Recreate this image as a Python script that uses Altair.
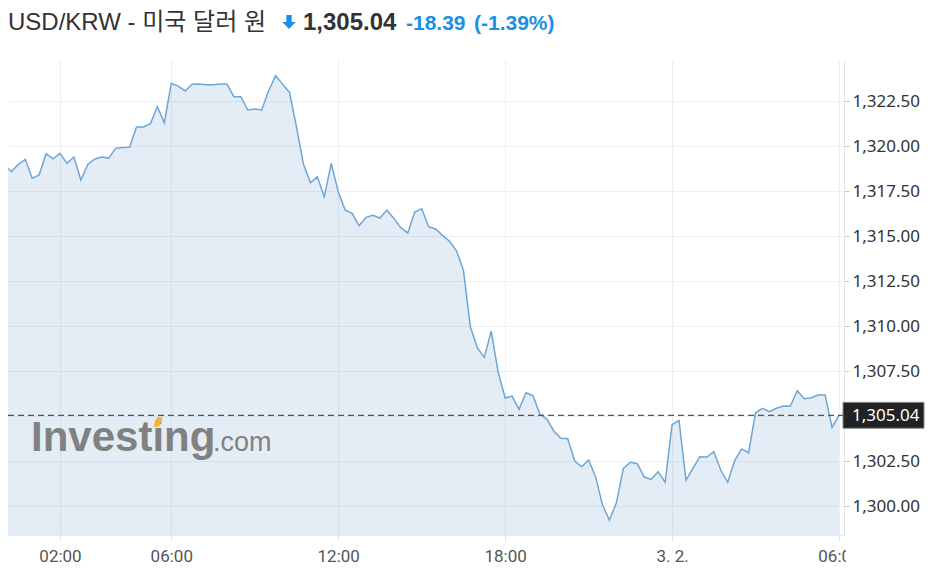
import altair as alt
import pandas as pd

# ---------------- data ----------------
prices = [
    1318.98, 1318.57, 1318.98, 1319.26, 1318.21, 1318.39, 1319.57, 1319.29, 1319.59, 1319.04,
    1319.39, 1318.11, 1318.98, 1319.28, 1319.39, 1319.33, 1319.87, 1319.92, 1319.93, 1321.06,
    1321.06, 1321.24, 1322.18, 1321.29, 1323.48, 1323.33, 1323.06, 1323.43, 1323.44, 1323.41,
    1323.41, 1323.44, 1323.44, 1322.74, 1322.74, 1322.00, 1322.06, 1322.00, 1323.07, 1323.91,
    1323.44, 1322.98, 1321.07, 1319.00, 1317.96, 1318.29, 1317.18, 1319.04, 1317.46, 1316.44,
    1316.26, 1315.57, 1316.04, 1316.15, 1316.00, 1316.44, 1315.98, 1315.46, 1315.17, 1316.33,
    1316.52, 1315.52, 1315.39, 1315.04, 1314.71, 1314.18, 1313.11, 1309.96, 1308.79, 1308.26,
    1309.72, 1307.43, 1306.00, 1306.11, 1305.37, 1306.29, 1306.13, 1305.11, 1304.83, 1304.17,
    1303.76, 1303.74, 1302.50, 1302.18, 1302.56, 1301.63, 1300.06, 1299.22, 1300.18, 1302.09,
    1302.43, 1302.35, 1301.61, 1301.48, 1301.91, 1301.32, 1304.52, 1304.75, 1301.44, 1302.09,
    1302.74, 1302.72, 1303.02, 1302.00, 1301.32, 1302.52, 1303.17, 1302.96, 1305.18, 1305.43,
    1305.24, 1305.43, 1305.56, 1305.54, 1306.41, 1305.96, 1306.02, 1306.17, 1306.17, 1304.37,
    1305.04,
]
start_time = "2023-03-01 00:00"
interval = "15min"

tick_hours = [2, 6, 12, 18, 24, 30]
tick_labels = ["02:00", "06:00", "12:00", "18:00", "3. 2.", "06:00"]
y_ticks = [1300.0, 1302.5, 1305.0, 1307.5, 1310.0, 1312.5, 1315.0, 1317.5, 1320.0, 1322.5]

title_name = ["USD/KRW - 미국 달러 원"]
last_price_text = ["1,305.04"]
change_text = ["-18.39"]
change_pct_text = ["(-1.39%)"]
watermark_main = ["Investing"]
watermark_tail = [".com"]

# ---------------- layout ----------------
W, H = 836, 475
x_dom = [0.131, 30.18]
y_dom = [1298.39, 1324.78]

times = pd.date_range(start_time, periods=len(prices), freq=interval)
hours = [(t - times[0]).total_seconds() / 3600 for t in times]
df = pd.DataFrame({"h": hours, "price": prices})
last = pd.DataFrame({"price": [prices[-1]], "label": last_price_text})

label_expr = " : ".join(
    f"datum.value == {h} ? '{l}'" for h, l in zip(tick_hours, tick_labels)
) + " : ''"

TITLE_FONT = "Liberation Sans, Arial, 'Noto Sans CJK KR', sans-serif"
AXIS_FONT = "'Noto Sans', 'Open Sans', sans-serif"
XLAB_FONT = "'Liberation Sans Narrow', 'Roboto', sans-serif"
WM_FONT = "Liberation Sans, Arial, sans-serif"
BLUE = "#1a8fe3"

xscale = alt.Scale(domain=x_dom, nice=False, zero=False)
yscale = alt.Scale(domain=y_dom, nice=False, zero=False)

x_axis = alt.Axis(
    values=tick_hours, labelExpr=label_expr, title=None, grid=True,
    gridColor="#efefef", gridWidth=1, tickColor="#e3e3e3", tickSize=6,
    domainColor="#e8e8e8", labelFont=XLAB_FONT, labelFontSize=17,
    labelColor="#555555", labelPadding=7, labelFlush=False, labelOverlap=False,
)
y_axis = alt.Axis(
    orient="right", values=y_ticks, format=",.2f", title=None, grid=True,
    gridColor="#efefef", gridWidth=1, tickColor="#c8c8c8", tickSize=5,
    domainColor="#e2e2e2", labelFont=AXIS_FONT, labelFontSize=17,
    labelColor="#333333", labelPadding=3, labelOverlap=False,
)

base = alt.Chart(df)

area = base.mark_area(clip=True, color="#2f73b5", opacity=0.13).encode(
    x=alt.X("h:Q", scale=xscale, axis=x_axis),
    y=alt.Y("price:Q", scale=yscale, axis=y_axis),
    y2=alt.value(H),
)
line = base.mark_line(clip=True, color="#6ea6d7", strokeWidth=1.5).encode(
    x=alt.X("h:Q", scale=xscale),
    y=alt.Y("price:Q", scale=yscale),
)
rule = alt.Chart(last).mark_rule(color="#555555", strokeDash=[6, 4], strokeWidth=1.2).encode(
    y=alt.Y("price:Q", scale=yscale),
)
box = alt.Chart(last).transform_calculate(
    lo="datum.price - 0.72", hi="datum.price + 0.72"
).mark_rect(color="#222222", stroke="#888888", strokeWidth=1).encode(
    x=alt.value(W - 1), x2=alt.value(W + 80),
    y=alt.Y("lo:Q", scale=yscale), y2="hi:Q",
)
box_text = alt.Chart(last).mark_text(
    align="left", baseline="middle", color="white", font=AXIS_FONT, fontSize=17, dy=1
).encode(
    x=alt.value(W + 8), y=alt.Y("price:Q", scale=yscale), text="label:N",
)
# white patch that clips the right-most time label, as in the original widget
clip_patch = alt.Chart(pd.DataFrame({"a": [1]})).mark_rect(color="white").encode(
    x=alt.value(W + 2), x2=alt.value(W + 40), y=alt.value(H + 7), y2=alt.value(H + 30),
)

def txt(values, x, y, size, color, weight="normal", font=TITLE_FONT, opacity=1):
    return alt.Chart(pd.DataFrame({"t": values})).mark_text(
        align="left", baseline="alphabetic", font=font, fontSize=size,
        fontWeight=weight, color=color, opacity=opacity,
    ).encode(x=alt.value(x), y=alt.value(y), text="t:N")

title = txt(title_name, 0, -30, 24, "#333333")
price_t = txt(last_price_text, 295, -30, 24, "#333333", "bold")
chg_t = txt(change_text, 398, -30, 21, BLUE, "bold")
pct_t = txt(change_pct_text, 466, -30, 21, BLUE, "bold")

arrow = alt.Chart(pd.DataFrame({"a": [1]})).mark_point(
    shape="M-0.38,-1 L0.38,-1 L0.38,0 L0.95,0 L0,1 L-0.95,0 L-0.38,0 Z",
    filled=True, color=BLUE, opacity=1, size=200, strokeWidth=0,
).encode(x=alt.value(281), y=alt.value(-38))

wm1 = txt(watermark_main, 23, 391, 42, "#7c7c7c", "bold", WM_FONT, 0.95)
wm2 = txt(watermark_tail, 205, 391, 27, "#7c7c7c", "normal", WM_FONT, 0.95)
wm_dot = alt.Chart(pd.DataFrame({"a": [1]})).mark_point(
    shape="M-0.2,-1 L1,-1 L0.2,1 L-1,1 Z", filled=True, color="#f2b233",
    opacity=1, size=90, strokeWidth=0,
).encode(x=alt.value(150), y=alt.value(362))

chart = alt.layer(
    area, line, rule, wm1, wm2, wm_dot, box, box_text, clip_patch,
    title, price_t, chg_t, pct_t, arrow
).properties(
    width=W, height=H,
    background="white",
    autosize=alt.AutoSizeParams(type="none"),
    padding={"left": 0, "top": 52, "right": 82, "bottom": 31},
).configure_view(strokeWidth=0, stroke="transparent")

chart.save("out.html", embed_options={"renderer": "svg", "actions": False})
